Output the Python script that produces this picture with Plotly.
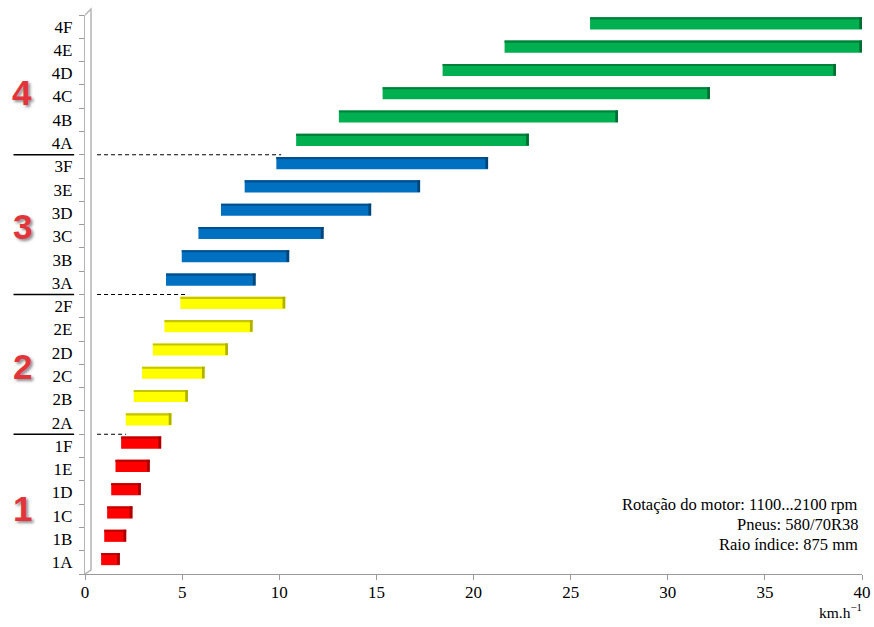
import plotly.graph_objects as go

# Gear ranges (km/h) at 1100...2100 rpm
gears = ["1A", "1B", "1C", "1D", "1E", "1F",
         "2A", "2B", "2C", "2D", "2E", "2F",
         "3A", "3B", "3C", "3D", "3E", "3F",
         "4A", "4B", "4C", "4D", "4E", "4F"]
speed_min = [0.83, 0.99, 1.14, 1.35, 1.57, 1.86,
             2.10, 2.51, 2.94, 3.49, 4.09, 4.91,
             4.17, 4.98, 5.84, 7.00, 8.22, 9.85,
             10.87, 13.07, 15.32, 18.41, 21.6, 26.0]
speed_max = [1.79, 2.12, 2.44, 2.87, 3.33, 3.92,
             4.45, 5.30, 6.16, 7.36, 8.63, 10.31,
             8.78, 10.51, 12.28, 14.73, 17.25, 20.75,
             22.85, 27.44, 32.17, 38.66, 40.0, 40.0]
groups = ["1", "2", "3", "4"]
x_ticks = [0, 5, 10, 15, 20, 25, 30, 35, 40]
notes = ["Rotação do motor: 1100...2100 rpm", "Pneus: 580/70R38", "Raio índice: 875 mm"]

face = {"1": "#ff0000", "2": "#ffff00", "3": "#0070c0", "4": "#00b050"}
top = {"1": "#c00000", "2": "#c4c400", "3": "#00508f", "4": "#00813b"}
side = {"1": "#a80000", "2": "#b0b000", "3": "#004578", "4": "#006e32"}

grp = [g[0] for g in gears]
span = [b - a for a, b in zip(speed_min, speed_max)]
serif = "Liberation Serif, Times New Roman, serif"

fig = go.Figure()
# front face
fig.add_trace(go.Bar(y=gears, x=span, base=speed_min, orientation="h",
                     width=0.52, offset=-0.12,
                     marker=dict(color=[face[g] for g in grp], line_width=0)))
# top face strip
fig.add_trace(go.Bar(y=gears, x=span, base=speed_min, orientation="h",
                     width=0.09, offset=0.31,
                     marker=dict(color=[top[g] for g in grp], line_width=0)))
# right side face
side_w = 0.14
fig.add_trace(go.Bar(y=gears, x=[side_w] * len(gears),
                     base=[b - side_w for b in speed_max], orientation="h",
                     width=0.5, offset=-0.1,
                     marker=dict(color=[side[g] for g in grp], line_width=0)))

shapes = []
# thin side wall of the category axis
shapes.append(dict(type="path", xref="x", yref="paper", xsizemode="pixel", ysizemode="pixel",
                   xanchor=0, yanchor=0, path="M0,0 L6,4 L6,565 L0,559",
                   line=dict(color="#b5b5b5", width=1.5)))
# group separators
for k in range(1, 4):
    yb = 6 * k - 0.5
    last_start = speed_min[6 * k - 1]
    shapes.append(dict(type="line", xref="paper", yref="y", x0=-0.092, x1=-0.014,
                       y0=yb, y1=yb, line=dict(color="black", width=1.3)))
    shapes.append(dict(type="line", xref="x", yref="y", x0=0.62, x1=last_start + 0.25,
                       y0=yb, y1=yb, line=dict(color="black", width=1, dash="4px,3px")))

annotations = []
group_y = [0.118, 0.371, 0.622, 0.862]
for g, gy in zip(groups, group_y):
    annotations.append(dict(text=g, xref="paper", yref="paper", x=-0.081, y=gy,
                            showarrow=False, xanchor="center", yanchor="middle",
                            font=dict(family="Liberation Sans, Arial, sans-serif", size=35,
                                      color="#e2343a", weight="bold",
                                      shadow="2px 2px 3px rgba(0,0,0,0.45)")))
for i, t in enumerate(notes):
    annotations.append(dict(text=t, xref="paper", yref="paper", x=0.997, y=0.124 - i * 0.0358,
                            showarrow=False, xanchor="right", yanchor="middle",
                            font=dict(family=serif, size=16.5, color="black")))
annotations.append(dict(text="km.h<sup>−1</sup>", xref="paper", yref="paper", x=1.003, y=-0.066,
                        showarrow=False, xanchor="right", yanchor="middle",
                        font=dict(family=serif, size=15.5, color="black")))

fig.update_layout(
    width=874, height=627,
    margin=dict(l=85, r=12, t=15, b=53, autoexpand=False),
    paper_bgcolor="white", plot_bgcolor="white",
    barmode="overlay", showlegend=False,
    shapes=shapes, annotations=annotations,
    font=dict(family=serif, size=17, color="black"),
)
fig.update_xaxes(range=[0, 40], tickvals=x_ticks, ticks="outside", ticklen=5,
                 tickcolor="#9a9a9a", showline=True, linecolor="#9a9a9a", linewidth=1.3,
                 showgrid=False, zeroline=False, ticklabelstandoff=-3, automargin=False)
fig.update_yaxes(type="category", categoryorder="array", categoryarray=gears,
                 range=[-0.5, 23.5], tickson="boundaries", ticks="outside", ticklen=5,
                 tickcolor="#9a9a9a", showline=True, linecolor="#b5b5b5", linewidth=1.3,
                 showgrid=False, zeroline=False, ticklabelstandoff=8, automargin=False)

fig.write_html("out.html")
